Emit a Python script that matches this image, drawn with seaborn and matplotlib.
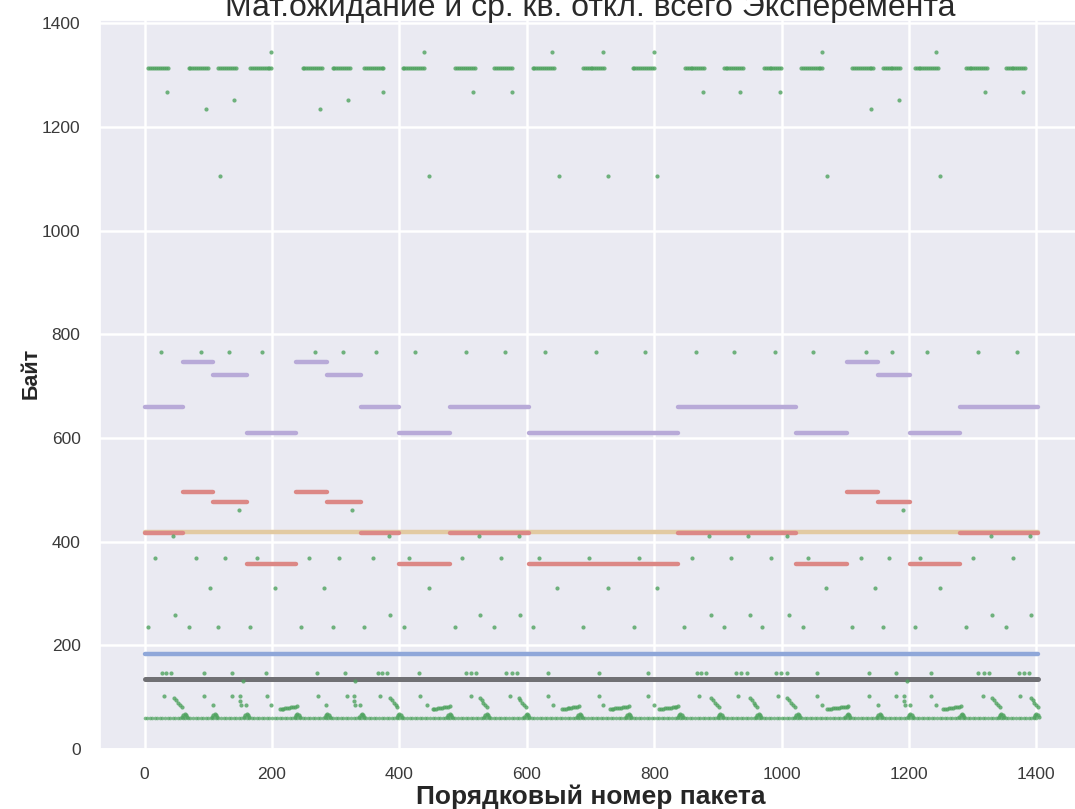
import numpy as np
import pandas as pd
import matplotlib
matplotlib.use("Agg")
import matplotlib.pyplot as plt
import seaborn as sns

# ---------------- data ----------------
# windowed mean (red) and mean+std (purple) segments
seg_start = [0, 60, 108, 160, 238, 287, 339, 400, 479, 603, 838, 1023, 1102, 1151, 1201, 1280]
seg_end = [60, 108, 160, 238, 287, 339, 400, 479, 603, 838, 1023, 1102, 1151, 1201, 1280, 1403]
seg_mean = [416, 496, 476, 357, 496, 476, 416, 357, 416, 357, 416, 357, 496, 476, 357, 416]
seg_upper = [659, 747, 721, 609, 747, 721, 659, 609, 659, 609, 659, 609, 747, 721, 609, 659]

# whole-experiment lines
line_span = [0, 1403]
mean_all = 419
blue_level = 183
gray_level = 135

# single packets (x positions per size level)
r1345 = [198, 438, 639, 720, 799, 1063, 1242]
r1313_runs = [(6, 36), (69, 100), (116, 144), (166, 201), (248, 279), (295, 323), (345, 377),
              (405, 440), (488, 518), (549, 578), (609, 644), (688, 722), (766, 801), (848, 878),
              (909, 939), (972, 1000), (1031, 1066), (1111, 1144), (1159, 1188), (1209, 1245),
              (1289, 1322), (1352, 1383)]
r1268 = [35, 374, 515, 576, 876, 935, 998, 1319, 1379]
r1252 = [141, 320, 1184]
r1235 = [97, 276, 1141]
r1105 = [119, 447, 651, 728, 805, 1072, 1248]
r765 = [25, 88, 132, 185, 267, 311, 364, 424, 505, 565, 628, 708, 786, 865, 926, 989, 1050,
        1132, 1174, 1229, 1308, 1369]
r460 = [148, 326, 1191]
r410 = [44, 383, 525, 587, 886, 948, 1009, 1328, 1390]
r368 = [17, 80, 126, 176, 258, 305, 358, 415, 499, 560, 619, 698, 776, 859, 920, 983, 1041,
        1124, 1168, 1218, 1301, 1363]
r311 = [102, 204, 281, 446, 647, 727, 805, 1069, 1146, 1248]
r258 = [47, 386, 527, 589, 889, 950, 1011, 1331, 1391]
r235 = [6, 69, 116, 166, 246, 295, 345, 408, 487, 549, 609, 689, 768, 846, 909, 970, 1033,
        1111, 1159, 1210, 1289, 1352]
r146 = [27, 34, 41, 93, 137, 190, 270, 314, 366, 373, 380, 430, 505, 513, 521, 568, 576, 584,
        634, 713, 791, 867, 874, 882, 929, 937, 946, 991, 999, 1008, 1055, 1137, 1179, 1234,
        1309, 1317, 1325, 1372, 1380, 1388]
r131 = [154, 331, 1197]
r103 = [31, 94, 138, 150, 192, 273, 317, 329, 370, 432, 512, 573, 634, 714, 791, 871, 932, 995,
        1055, 1137, 1180, 1192, 1235, 1316, 1375]
r92 = [150, 329, 1192]
r84 = [107, 152, 159, 199, 285, 331, 338, 443, 641, 720, 799, 1064, 1151, 1194, 1201, 1243]
# falling streaks (start x) with their successive sizes
streak_x = [46, 385, 526, 587, 889, 950, 1009, 1331, 1391]
streak_sizes = [99, 94, 89, 85, 81]
# flat runs near 80 bytes
r80_runs = [(212, 240), (452, 479), (655, 683), (730, 761), (808, 840), (1072, 1107), (1254, 1283)]
# base line of small packets and the bumps at period boundaries
base_runs = [(0, 1403)]
base_size = 60
bump_x = [63, 110, 160, 240, 287, 341, 400, 479, 537, 600, 683, 760, 841, 904, 964, 1025,
          1104, 1154, 1202, 1283, 1345, 1400]
bump_sizes = [62, 65, 68, 65, 62]

xticks = [0, 200, 400, 600, 800, 1000, 1200, 1400]
yticks = [0, 200, 400, 600, 800, 1000, 1200, 1400]

# ---------------- assemble points ----------------
px, py, grp = [], [], []


def add(xl, y, g="main"):
    for x in xl:
        px.append(x)
        py.append(y)
        grp.append(g)


add(r1345, 1345)
for a, b in r1313_runs:
    add(range(a, b + 1, 3), 1313)
add(r1268, 1268)
add(r1252, 1252)
add(r1235, 1235)
add(r1105, 1105)
add(r765, 765)
add(r460, 460)
add(r410, 410)
add(r368, 368)
add(r311, 311)
add(r258, 258)
add(r235, 235)
add(r146, 146)
add(r131, 131)
add(r103, 103)
add(r92, 92)
add(r84, 84)
for s in streak_x:
    for i, v in enumerate(streak_sizes):
        add([s + 3 * i], v)
for a, b in r80_runs:
    xs = list(range(a, b + 1, 3))
    for i, x in enumerate(xs):
        add([x], 77 + 5 * i / max(len(xs) - 1, 1))
for a, b in base_runs:
    add(range(a, b + 1, 4), base_size, "base")
for bx in bump_x:
    for i, v in enumerate(bump_sizes):
        add([bx - 4 + 2 * i], v)

pts = pd.DataFrame({"x": px, "y": py, "g": grp})

seg_rows = []
for i, (s, e, m, u) in enumerate(zip(seg_start, seg_end, seg_mean, seg_upper)):
    seg_rows += [dict(seg=i, x=s, mean=m, upper=u), dict(seg=i, x=e, mean=m, upper=u)]
segs = pd.DataFrame(seg_rows)

# ---------------- plot ----------------
sns.set_theme(style="darkgrid")
plt.rcParams["font.family"] = ["Liberation Sans", "DejaVu Sans"]

fig = plt.figure(figsize=(10.75, 8.09), dpi=100)
ax = fig.add_axes([100 / 1075, 1 - 749 / 809, 981 / 1075, 729 / 809])

sns.lineplot(x=line_span, y=[mean_all, mean_all], color="#e2caa2", lw=3.2, ax=ax, zorder=2)
sns.lineplot(x=line_span, y=[blue_level, blue_level], color="#8fa7d9", lw=3.2, ax=ax, zorder=2)
sns.lineplot(x=line_span, y=[gray_level, gray_level], color="#707074", lw=3.6, ax=ax, zorder=2)
sns.lineplot(data=segs, x="x", y="upper", units="seg", estimator=None, color="#b8aad8",
             lw=3.2, ax=ax, zorder=2)
sns.lineplot(data=segs, x="x", y="mean", units="seg", estimator=None, color="#dc8886",
             lw=3.2, ax=ax, zorder=2)
sns.scatterplot(data=pts[pts.g == "base"], x="x", y="y", color="#4fa35f", s=7, marker="o",
                linewidth=0, alpha=0.7, ax=ax, zorder=3)
sns.scatterplot(data=pts[pts.g == "main"], x="x", y="y", color="#4fa35f", s=9, marker="o",
                linewidth=0, alpha=0.8, ax=ax, zorder=3)

ax.set_xlim(-70, 1470)
ax.set_ylim(0, 1406)
ax.set_xticks(xticks)
ax.set_yticks(yticks)
ax.tick_params(axis="both", labelsize=12.5, labelcolor="#3a3a3a")
ax.tick_params(axis="x", pad=7)
ax.tick_params(axis="y", pad=8)
ax.grid(True, color="white", lw=1.8)

ax.set_title("Мат.ожидание и ср. кв. откл. всего Эксперемента", fontsize=23, color="#2a2a2a", pad=3.2)
ax.set_xlabel("Порядковый номер пакета", fontsize=19, fontweight="bold", color="#262626")
ax.xaxis.set_label_coords(0.5, -0.049)
ax.set_ylabel("Байт", fontsize=15.5, fontweight="bold", color="#262626")
ax.yaxis.set_label_coords(-0.059, 0.515)

fig.savefig("out.png", dpi=100)
